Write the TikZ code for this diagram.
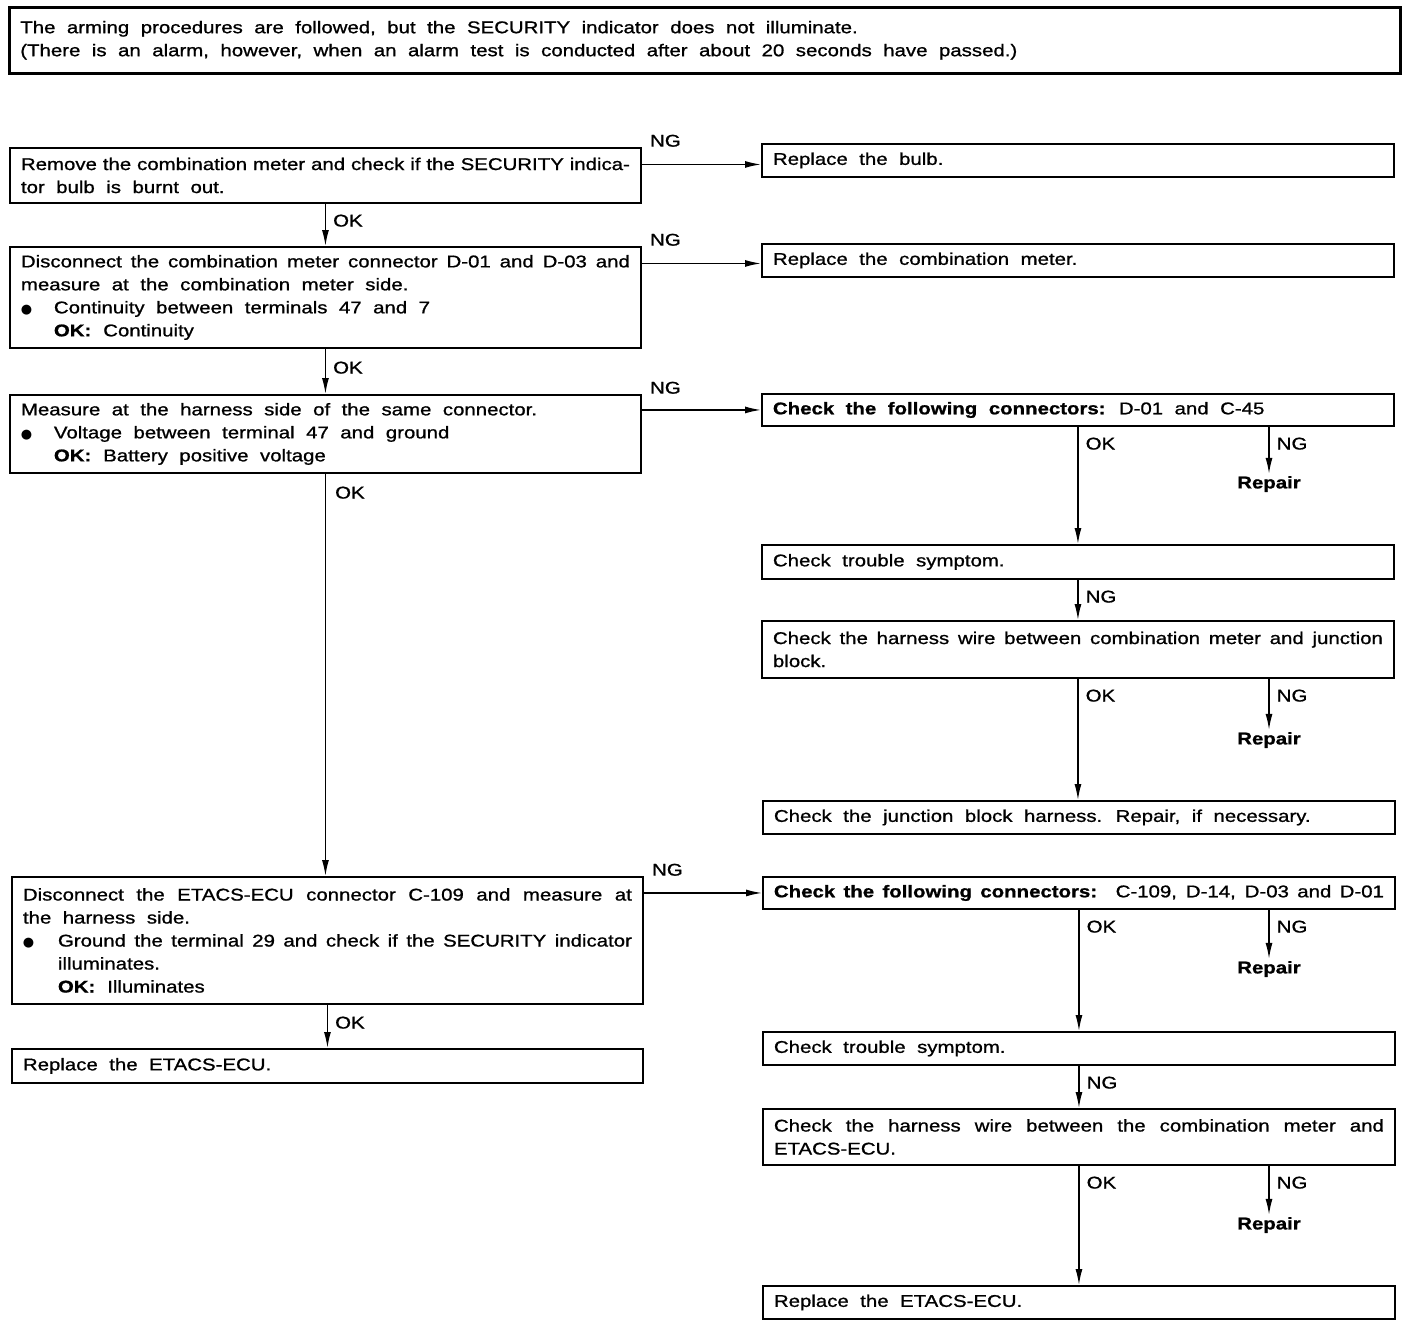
\documentclass[tikz,border=0pt]{standalone}
\usepackage{fontspec}
\setmainfont{Liberation Sans}[FakeStretch=1.2, FakeBold=1.0]
\newfontfamily\dejavu{DejaVu Sans}
\usetikzlibrary{arrows.meta}
\setlength{\parindent}{0pt}
\newcommand{\blt}{\makebox[33pt][l]{\dejavu\fontsize{13}{13}\selectfont ●}}
\newcommand{\fs}{\fontsize{17}{23}\selectfont\spaceskip=11.5pt plus 4pt minus 6pt\relax}
\begin{document}
\begin{tikzpicture}[x=1pt,y=-1pt,
  box/.style={draw, line width=1.9pt, anchor=north west, inner xsep=11pt, inner ysep=0pt, align=justify, font=\fs},
  lbox/.style={box, text width=609pt},
  rbox/.style={box, text width=610pt},
  lbl/.style={font=\fs, inner sep=0pt},
  rep/.style={font=\fs\bfseries, inner sep=2pt},
  arr/.style={line width=1.5pt, -{Latex[length=16pt, width=7pt]}}]
\useasboundingbox (0,0) rectangle (1408,1326);

\node[box, line width=2.6pt, text width=1369pt, minimum height=66pt] (title) at (8,6)
 {\spaceskip=11.5pt plus 4pt minus 6pt The arming procedures are followed, but the SECURITY indicator does not illuminate.\newline
 (There is an alarm, however, when an alarm test is conducted after about 20 seconds have passed.)};

% left column
\node[lbox, minimum height=55pt] (b1) at (9,147)
 {Remove the combination meter and check if the SECURITY indica-\linebreak tor bulb is burnt out.};
\node[lbox, minimum height=101pt] (b2) at (9,246)
 {Disconnect the combination meter connector D-01 and D-03 and\linebreak measure at the combination meter side.\par
 \blt Continuity between terminals 47 and 7\par
 \hspace*{33pt}\textbf{OK:}\hspace{0.7em}Continuity};
\node[lbox, minimum height=78pt] (b3) at (9,394)
 {Measure at the harness side of the same connector.\par
 \blt Voltage between terminal 47 and ground\par
 \hspace*{33pt}\textbf{OK:}\hspace{0.7em}Battery positive voltage};
\node[lbox, minimum height=127pt] (b4) at (11,876)
 {Disconnect the ETACS-ECU connector C-109 and measure at\linebreak the harness side.\par
 \hangindent=35pt\hangafter=1 \makebox[35pt][l]{\dejavu\fontsize{13}{13}\selectfont ●}Ground the terminal 29 and check if the SECURITY indicator\linebreak illuminates.\par
 \hspace*{35pt}\textbf{OK:}\hspace{0.7em}Illuminates};
\node[lbox, minimum height=34pt] (b5) at (11,1048) {Replace the ETACS-ECU.};

% right column
\node[rbox, minimum height=33pt] (r1) at (761,143) {Replace the bulb.};
\node[rbox, minimum height=33pt] (r2) at (761,243) {Replace the combination meter.};
\node[rbox, minimum height=32pt] (r3) at (761,393) {\textbf{Check the following connectors:} D-01 and C-45};
\node[rbox, minimum height=34pt] (r4) at (761,544) {Check trouble symptom.};
\node[rbox, minimum height=57pt] (r5) at (761,620)
 {Check the harness wire between combination meter and junction\linebreak block.};
\node[rbox, minimum height=33pt] (r6) at (762,800) {Check the junction block harness. Repair, if necessary.};
\node[rbox, minimum height=32pt] (r7) at (762,876) {\textbf{Check the following connectors:}\hspace{0.4em} C-109, D-14, D-03 and D-01};
\node[rbox, minimum height=33pt] (r8) at (762,1031) {Check trouble symptom.};
\node[rbox, minimum height=56pt] (r9) at (762,1108)
 {Check the harness wire between the combination meter and\linebreak ETACS-ECU.};
\node[rbox, minimum height=33pt] (r10) at (762,1285) {Replace the ETACS-ECU.};

% repair nodes
\node[rep] (p1) at (1269,484) {Repair};
\node[rep] (p2) at (1269,740) {Repair};
\node[rep] (p3) at (1269,969) {Repair};
\node[rep] (p4) at (1269,1225) {Repair};

% left verticals
\draw[arr] (b1.south) -- node[lbl, pos=0, anchor=north west, xshift=7pt, yshift=-10pt] {OK} (b2.north);
\draw[arr] (b2.south) -- node[lbl, pos=0, anchor=north west, xshift=7pt, yshift=-12pt] {OK} (b3.north);
\draw[arr] (b3.south) -- node[lbl, pos=0, anchor=north west, xshift=9pt, yshift=-12pt] {OK} (b3.south |- b4.north);
\draw[arr] (b4.south) -- node[lbl, pos=0, anchor=north west, xshift=7pt, yshift=-11pt] {OK} (b5.north);

% horizontals
\draw[arr] ([yshift=-4pt]r1.west -| b1.east) -- ([yshift=-4pt]r1.west);
\node[lbl, anchor=south west] (ng1) at ([xshift=8pt]b1.north east) {NG};
\draw[arr] ([yshift=-3pt]r2.west -| b2.east) -- ([yshift=-3pt]r2.west);
\node[lbl, anchor=south west] (ng2) at ([xshift=8pt]b2.north east) {NG};
\draw[arr] (b3.east |- r3.west) -- (r3.west);
\node[lbl, anchor=south west] (ng3) at ([xshift=8pt]b3.north east) {NG};
\draw[arr] (b4.east |- r7.west) -- (r7.west);
\node[lbl, anchor=south west] (ng4) at ([xshift=8pt]b4.north east) {NG};

% right verticals (upper)
\draw[arr] (r3.south) -- node[lbl, pos=0, anchor=north west, xshift=7pt, yshift=-10pt] {OK} (r4.north);
\draw[arr] (r3.south -| p1.north) -- node[lbl, pos=0, anchor=north west, xshift=7pt, yshift=-10pt] {NG} (p1.north);
\draw[arr] (r4.south) -- node[lbl, pos=0, anchor=north west, xshift=7pt, yshift=-10pt] {NG} (r5.north);
\draw[arr] (r5.south) -- node[lbl, pos=0, anchor=north west, xshift=7pt, yshift=-10pt] {OK} (r5.south |- r6.north);
\draw[arr] (r5.south -| p2.north) -- node[lbl, pos=0, anchor=north west, xshift=7pt, yshift=-10pt] {NG} (p2.north);

% right verticals (lower)
\draw[arr] (r7.south) -- node[lbl, pos=0, anchor=north west, xshift=7pt, yshift=-10pt] {OK} (r8.north);
\draw[arr] (r7.south -| p3.north) -- node[lbl, pos=0, anchor=north west, xshift=7pt, yshift=-10pt] {NG} (p3.north);
\draw[arr] (r8.south) -- node[lbl, pos=0, anchor=north west, xshift=7pt, yshift=-10pt] {NG} (r9.north);
\draw[arr] (r9.south) -- node[lbl, pos=0, anchor=north west, xshift=7pt, yshift=-10pt] {OK} (r10.north);
\draw[arr] (r9.south -| p4.north) -- node[lbl, pos=0, anchor=north west, xshift=7pt, yshift=-10pt] {NG} (p4.north);
\end{tikzpicture}
\end{document}
